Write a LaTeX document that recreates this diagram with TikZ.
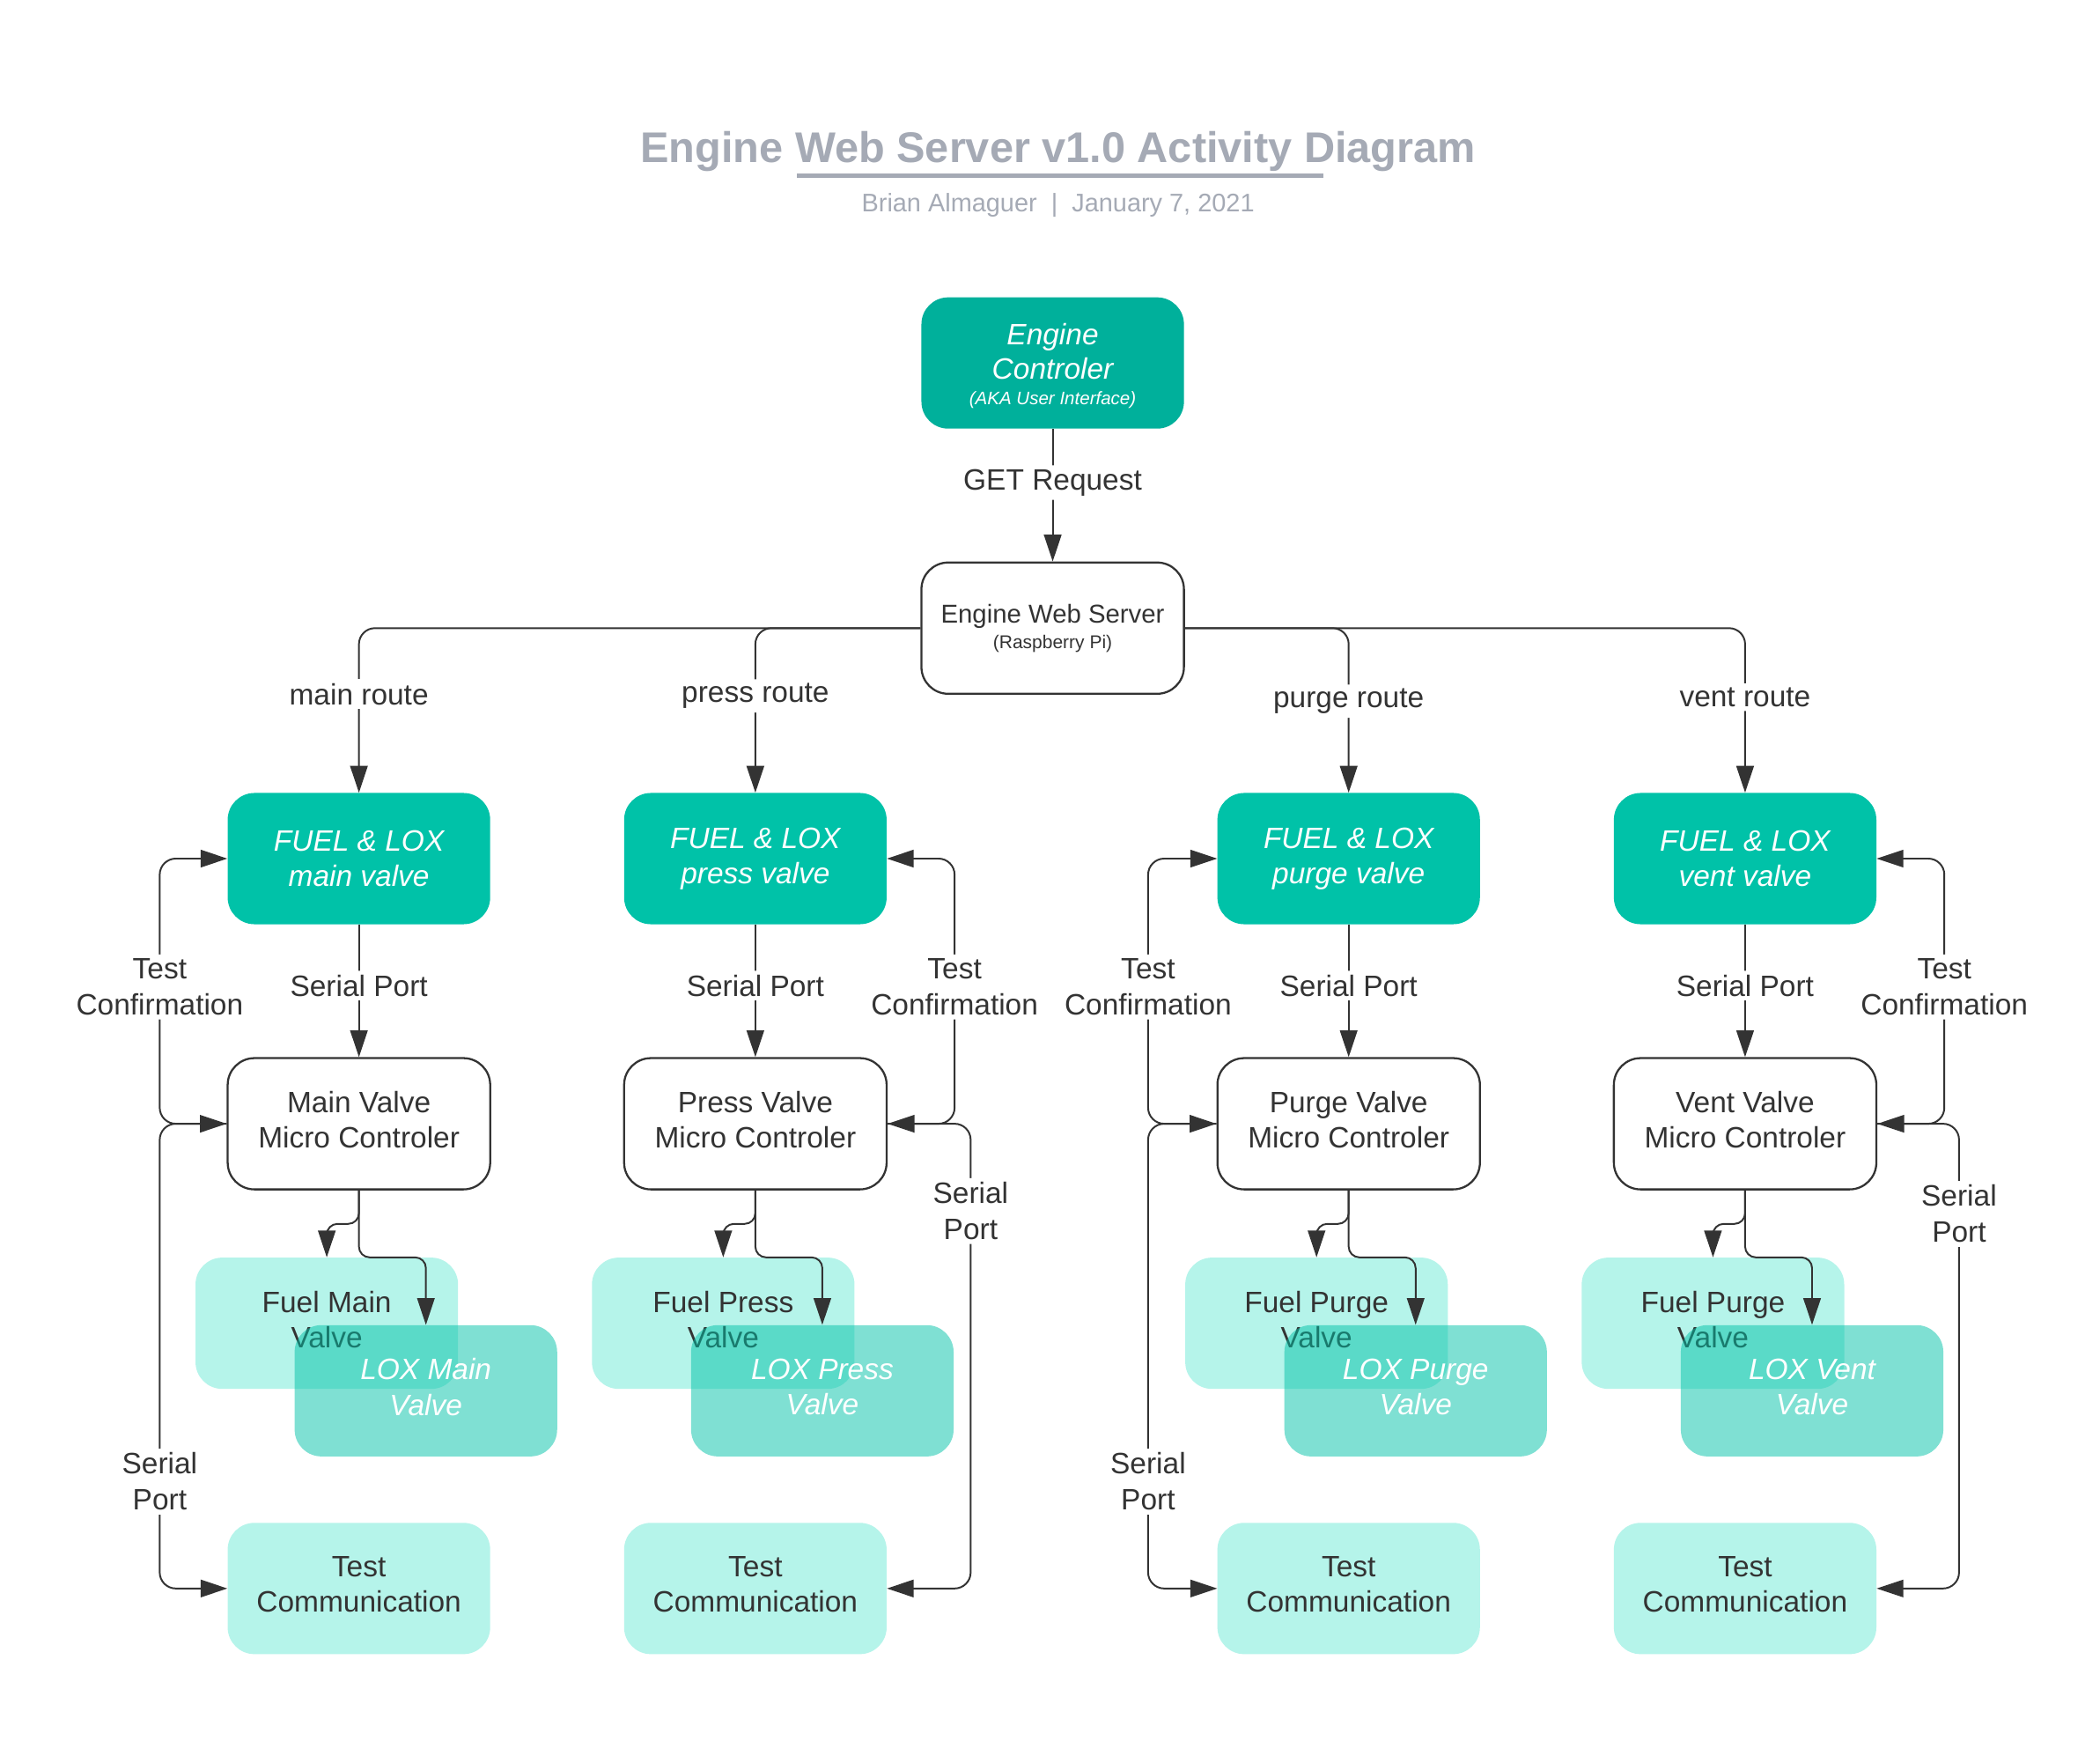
\documentclass[tikz,border=0pt]{standalone}
\usepackage{fontspec}
\setmainfont{Liberation Sans}
\usepackage{xcolor}
\usepackage{tikz}
\usetikzlibrary{arrows.meta, positioning}

\definecolor{inkgray}{HTML}{333333}
\definecolor{titlegray}{HTML}{A5AAB5}
\definecolor{ctrlteal}{HTML}{00B09B}
\definecolor{valveteal}{HTML}{00C2A8}
\definecolor{paleteal}{HTML}{B5F4EA}

\tikzset{
  box/.style={rectangle, rounded corners=20pt, minimum width=196pt, minimum height=98pt,
    align=center, inner sep=0pt, text=inkgray, font=\fontsize{22}{26.5}\selectfont},
  lift/.style={execute at end node={\vrule width 0pt depth 6pt}},
  hostbox/.style={box, draw=inkgray, line width=1.5pt, fill=white},
  mcbox/.style={hostbox, lift},
  ctrlbox/.style={box, fill=ctrlteal, text=white, font=\fontsize{22}{26}\selectfont\itshape},
  valvebox/.style={box, fill=valveteal, text=white, font=\fontsize{22}{26.5}\selectfont\itshape},
  palebox/.style={box, fill=paleteal, lift},
  loxbox/.style={box, fill=valveteal, fill opacity=0.5, text opacity=1, text=white,
    font=\fontsize{22}{26.5}\selectfont\itshape, lift},
  lbl/.style={fill=white, text=inkgray, align=center, inner sep=3pt, font=\fontsize{22}{27}\selectfont},
  link/.style={draw=inkgray, line width=1.3pt, rounded corners=12pt},
}

\begin{document}
\begin{tikzpicture}[x=1pt, y=-1pt, >={Triangle[length=20pt, width=13pt]}, node distance=99pt]
    \fill[white] (0,0) rectangle (1568,1316);
    \useasboundingbox (0,0) rectangle (1568,1316);
    % Title
    \node[anchor=base, text=titlegray, font=\fontsize{32}{38}\selectfont\bfseries] (title) at (790,121) {Engine Web Server v1.0 Activity Diagram};
    \draw[titlegray, line width=3pt] (595,131) -- (988,131);
    \node[anchor=base, text=titlegray, font=\fontsize{19}{24}\selectfont] (byline) at (790,158) {Brian Almaguer\ \ |\ \ January 7, 2021};

    \node[ctrlbox] (ctrl) at (786,271) {\rule{0pt}{20pt}Engine\\Controler\\[-7pt]{\fontsize{13.5}{16}\selectfont(AKA User Interface)}};
    \node[hostbox, below=of ctrl, font=\fontsize{19.3}{23}\selectfont] (server) {Engine Web Server\\[-4pt]{\fontsize{13.8}{16}\selectfont(Raspberry Pi)}};

    \node[valvebox] (mainv)  at (268,641)  {FUEL \& LOX\\main valve};
    \node[valvebox] (pressv) at (564,641)  {FUEL \& LOX\\press valve};
    \node[valvebox] (purgev) at (1007,641) {FUEL \& LOX\\purge valve};
    \node[valvebox] (ventv)  at (1303,641) {FUEL \& LOX\\vent valve};

    \node[mcbox, below=of mainv]  (mainmc)  {Main Valve\\Micro Controler};
    \node[mcbox, below=of pressv] (pressmc) {Press Valve\\Micro Controler};
    \node[mcbox, below=of purgev] (purgemc) {Purge Valve\\Micro Controler};
    \node[mcbox, below=of ventv]  (ventmc)  {Vent Valve\\Micro Controler};

    \node[palebox, below=50pt of mainmc, xshift=-24pt]  (mainfuel)  {Fuel Main\\Valve};
    \node[palebox, below=50pt of pressmc, xshift=-24pt] (pressfuel) {Fuel Press\\Valve};
    \node[palebox, below=50pt of purgemc, xshift=-24pt] (purgefuel) {Fuel Purge\\Valve};
    \node[palebox, below=50pt of ventmc, xshift=-24pt]  (ventfuel)  {Fuel Purge\\Valve};

    \node[loxbox, below=-48pt of mainfuel, xshift=74pt]  (mainlox)  {LOX Main\\Valve};
    \node[loxbox, below=-48pt of pressfuel, xshift=74pt] (presslox) {LOX Press\\Valve};
    \node[loxbox, below=-48pt of purgefuel, xshift=74pt] (purgelox) {LOX Purge\\Valve};
    \node[loxbox, below=-48pt of ventfuel, xshift=74pt]  (ventlox)  {LOX Vent\\Valve};

    \node[palebox, below=248pt of mainmc]  (maintc)  {Test\\Communication};
    \node[palebox, below=248pt of pressmc] (presstc) {Test\\Communication};
    \node[palebox, below=248pt of purgemc] (purgetc) {Test\\Communication};
    \node[palebox, below=248pt of ventmc]  (venttc)  {Test\\Communication};

    \draw[link, ->] (ctrl) -- (server) node[lbl, pos=0.405] {GET Request};

    % Routes
    \draw[link, ->] (server.west) -| (mainv)  node[lbl, pos=0.7] {main route};
    \draw[link, ->] (server.west) -| (pressv) node[lbl, pos=0.706] {press route};
    \draw[link, ->] (server.east) -| (purgev) node[lbl, pos=0.722] {purge route};
    \draw[link, ->] (server.east) -| (ventv)  node[lbl, pos=0.71] {vent route};

    \draw[link, ->] (mainv)  -- (mainmc)  node[lbl, pos=0.46] {Serial Port};
    \draw[link, ->] (pressv) -- (pressmc) node[lbl, pos=0.46] {Serial Port};
    \draw[link, ->] (purgev) -- (purgemc) node[lbl, pos=0.46] {Serial Port};
    \draw[link, ->] (ventv)  -- (ventmc)  node[lbl, pos=0.46] {Serial Port};

    % Micro controler to fuel and lox valves
    \draw[link, rounded corners=8pt, ->] (mainmc.south) -- ++(0,25) -| (mainfuel);
    \draw[link, rounded corners=8pt, ->] (mainmc.south) -- ++(0,50) -| (mainlox);
    \draw[link, rounded corners=8pt, ->] (pressmc.south) -- ++(0,25) -| (pressfuel);
    \draw[link, rounded corners=8pt, ->] (pressmc.south) -- ++(0,50) -| (presslox);
    \draw[link, rounded corners=8pt, ->] (purgemc.south) -- ++(0,25) -| (purgefuel);
    \draw[link, rounded corners=8pt, ->] (purgemc.south) -- ++(0,50) -| (purgelox);
    \draw[link, rounded corners=8pt, ->] (ventmc.south) -- ++(0,25) -| (ventfuel);
    \draw[link, rounded corners=8pt, ->] (ventmc.south) -- ++(0,50) -| (ventlox);

    % Test confirmation and test link
    \draw[link, ->]  (mainmc.west) -- ++(-50,0) |- (mainv.west)  node[lbl, pos=0.258] {Test\\Confirmation};
    \draw[link, <->] (mainmc.west) -- ++(-50,0) |- (maintc.west) node[lbl, pos=0.385] {Serial\\Port};
    \draw[link, ->]  (pressmc.east) -- ++(50,0) |- (pressv.east)  node[lbl, pos=0.258] {Test\\Confirmation};
    \draw[link, <->] (pressmc.east) -- ++(62,0) |- (presstc.east) node[lbl, pos=0.094] {Serial\\Port};
    \draw[link, ->]  (purgemc.west) -- ++(-51,0) |- (purgev.west)  node[lbl, pos=0.258] {Test\\Confirmation};
    \draw[link, <->] (purgemc.west) -- ++(-51,0) |- (purgetc.west) node[lbl, pos=0.385] {Serial\\Port};
    \draw[link, ->]  (ventmc.east) -- ++(50,0) |- (ventv.east)  node[lbl, pos=0.258] {Test\\Confirmation};
    \draw[link, <->] (ventmc.east) -- ++(61,0) |- (venttc.east) node[lbl, pos=0.097] {Serial\\Port};
\end{tikzpicture}
\end{document}
